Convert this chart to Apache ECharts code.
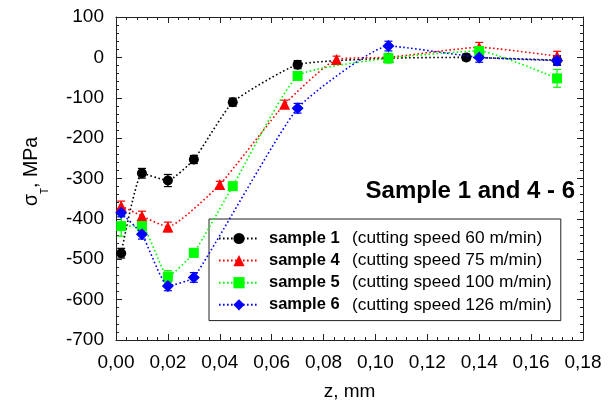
<!DOCTYPE html>
<html><head><meta charset="utf-8">
<script src="https://cdn.jsdelivr.net/npm/echarts@6/dist/echarts.min.js"></script>
<style>html,body{margin:0;padding:0;background:#fff}#c{width:613px;height:406px}</style>
</head><body><div id="c"></div>
<script>
const names = ['sample 1', 'sample 4', 'sample 5', 'sample 6'];
const speeds = ['60', '75', '100', '126'];
const colors = ['#000000', '#ff0000', '#00ff00', '#0000ff'];
const symbols = ['circle', 'triangle', 'rect', 'diamond'];
const symbolSizes = [10, 11, 10, 12];

const z1 = [0.002, 0.01, 0.02, 0.03, 0.045, 0.07, 0.105, 0.135, 0.17];
const v1 = [-485, -287, -305, -253, -111, -18, -2, 0, -7];
const e1 = [12, 12, 15, 10, 10, 10, 0, 8, 10];

const z4 = [0.002, 0.01, 0.02, 0.04, 0.065, 0.085, 0.105, 0.14, 0.17];
const v4 = [-368, -393, -420, -315, -116, -5, 0, 25, 3];
const e4 = [12, 12, 12, 8, 10, 8, 0, 12, 12];

const z5 = [0.002, 0.01, 0.02, 0.03, 0.045, 0.07, 0.105, 0.14, 0.17];
const v5 = [-418, -418, -543, -484, -319, -46, -2, 16, -52];
const e5 = [25, 12, 15, 10, 10, 8, 12, 10, 22];

const z6 = [0.002, 0.01, 0.02, 0.03, 0.07, 0.105, 0.14, 0.17];
const v6 = [-385, -438, -566, -545, -126, 28, 0, -8];
const e6 = [10, 12, 12, 12, 12, 12, 12, 12];

const zs = [z1, z4, z5, z6], vs = [v1, v4, v5, v6], es = [e1, e4, e5, e6];
const FONT = "'Liberation Sans', Arial, Helvetica, sans-serif";

function errRender(color) {
  return function (params, api) {
    const x = api.value(0), y = api.value(1), e = api.value(2);
    if (!e) return null;
    const t = api.coord([x, y + e]), b = api.coord([x, y - e]);
    const hw = 4;
    const st = { stroke: color, lineWidth: 1.2 };
    return { type: 'group', children: [
      { type: 'line', shape: { x1: t[0], y1: t[1], x2: b[0], y2: b[1] }, style: st },
      { type: 'line', shape: { x1: t[0] - hw, y1: t[1], x2: t[0] + hw, y2: t[1] }, style: st },
      { type: 'line', shape: { x1: b[0] - hw, y1: b[1], x2: b[0] + hw, y2: b[1] }, style: st }
    ] };
  };
}

const series = [];
names.forEach((n, i) => {
  series.push({
    name: 'err' + i, type: 'custom', z: 1,
    renderItem: errRender(colors[i]),
    data: zs[i].map((z, k) => [z, vs[i][k], es[i][k]]),
    silent: true
  });
});
names.forEach((n, i) => {
  series.push({
    name: n, type: 'line', z: 2 + i,
    data: zs[i].map((z, k) => [z, vs[i][k]]),
    smooth: 0.15,
    symbol: symbols[i], symbolSize: symbolSizes[i], showSymbol: true,
    itemStyle: { color: colors[i] },
    lineStyle: { color: colors[i], width: 1.6, type: [1.6, 2.4] },
    animation: false
  });
});

function xAxisCfg(pos, showLabel) {
  return {
    type: 'value', position: pos, min: 0, max: 0.18, interval: 0.02,
    axisLine: { onZero: false, lineStyle: { color: '#222', width: 1 } },
    axisTick: { inside: true, length: 6, lineStyle: { color: '#222' } },
    minorTick: { show: true, splitNumber: 5, length: 3, lineStyle: { color: '#222' } },
    splitLine: { show: false },
    axisLabel: { show: showLabel, formatter: v => v.toFixed(2).replace('.', ','), fontSize: 19, color: '#000', fontFamily: FONT, margin: 13 },
    name: showLabel ? 'z, mm' : '', nameLocation: 'middle', nameGap: 42,
    nameTextStyle: { fontSize: 19, color: '#000', fontFamily: FONT }
  };
}
function yAxisCfg(pos, showLabel) {
  return {
    type: 'value', position: pos, min: -700, max: 100, interval: 100,
    axisLine: { onZero: false, lineStyle: { color: '#222', width: 1 } },
    axisTick: { inside: true, length: 6, lineStyle: { color: '#222' } },
    minorTick: { show: true, splitNumber: 5, length: 3, lineStyle: { color: '#222' } },
    splitLine: { show: false },
    axisLabel: { show: showLabel, fontSize: 19, color: '#000', fontFamily: FONT, margin: 12 },
    name: showLabel ? '{a|σ}{s|T}{a|,}{d| }{a|MPa}' : '', nameLocation: 'middle', nameRotate: 90, nameGap: 66,
    nameTextStyle: {
      color: '#000', fontFamily: FONT, padding: [0, 0, 0, 14],
      rich: {
        a: { fontSize: 19.5, lineHeight: 19, verticalAlign: 'top', fontFamily: FONT, color: '#000' },
        s: { fontSize: 10, lineHeight: 8, verticalAlign: 'bottom', fontFamily: FONT, color: '#000' },
        d: { fontSize: 19.5, lineHeight: 28, verticalAlign: 'top', fontFamily: FONT, color: '#000' }
      }
    }
  };
}

const chart = echarts.init(document.getElementById('c'), null, { renderer: 'canvas' });
chart.setOption({
  animation: false,
  backgroundColor: '#fff',
  grid: { left: 116, right: 30, top: 17, bottom: 66, containLabel: false },
  title: { text: 'Sample 1 and 4 - 6', right: 33, top: 174, textStyle: { fontSize: 24, fontWeight: 'bold', color: '#000', fontFamily: FONT } },
  xAxis: [xAxisCfg('bottom', true), xAxisCfg('top', false)],
  yAxis: [yAxisCfg('left', true), yAxisCfg('right', false)],
  legend: {
    data: names, orient: 'vertical', left: 209, top: 219,
    backgroundColor: '#fff', borderColor: '#222', borderWidth: 1,
    padding: [11, 9, 7.3, 9], itemWidth: 40, itemHeight: 14, itemGap: 5.1,
    formatter: n => '{b|' + n + '}{n|(cutting speed ' + speeds[names.indexOf(n)] + ' m/min)}',
    textStyle: {
      fontFamily: FONT,
      rich: {
        b: { fontWeight: 'bold', fontSize: 16.5, width: 83, padding: [0, 0, 0, 5], fontFamily: FONT, color: '#000', lineHeight: 14 },
        n: { fontSize: 17.3, fontFamily: FONT, color: '#000', lineHeight: 14 }
      }
    }
  },
  series: series
});
</script>
</body></html>
